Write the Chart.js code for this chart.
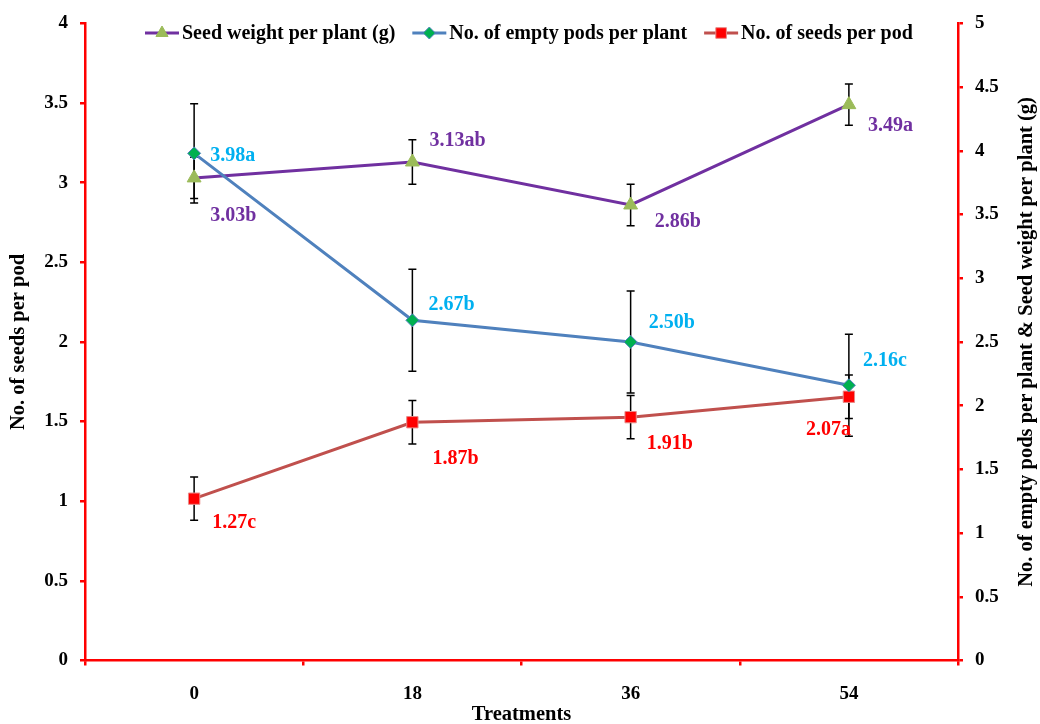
<!DOCTYPE html>
<html>
<head>
<meta charset="utf-8">
<script src="https://cdn.jsdelivr.net/npm/chart.js@4.4.1/dist/chart.umd.min.js"></script>
<style>
  html, body { margin: 0; padding: 0; background: #ffffff; }
  #wrap { width: 1040px; height: 724px; position: relative; }
  #chart { display: block; }
</style>
</head>
<body>
<div id="wrap"><canvas id="chart" width="1040" height="724"></canvas></div>
<script>
// Treatment levels on the x axis
const treatments = ['0', '18', '36', '54'];

// Seed weight per plant (g) — left axis
const seedWeight = [3.03, 3.13, 2.86, 3.49];
const seedWeightErr = [0.13, 0.14, 0.13, 0.13];
const seedWeightLetters = ['b', 'ab', 'b', 'a'];

// No. of empty pods per plant — right axis
const emptyPods = [3.98, 2.67, 2.50, 2.16];
const emptyPodsErr = [0.39, 0.40, 0.40, 0.40];
const emptyPodsLetters = ['a', 'b', 'b', 'c'];

// No. of seeds per pod — right axis
const seedsPerPod = [1.27, 1.87, 1.91, 2.07];
const seedsPerPodErr = [0.17, 0.17, 0.17, 0.17];
const seedsPerPodLetters = ['c', 'b', 'b', 'a'];

// Axis ranges
const leftMin = 0, leftMax = 4, leftStep = 0.5;
const rightMin = 0, rightMax = 5, rightStep = 0.5;

// Where each value label sits relative to its point: [dx, dy, align]
const seedWeightLabelPos = [[16, 38, 'left'], [17, -21, 'left'], [24, 17, 'left'], [19, 21, 'left']];
const emptyPodsLabelPos = [[16, 2, 'left'], [16, -15, 'left'], [18, -19, 'left'], [14, -24, 'left']];
const seedsPerPodLabelPos = [[18, 24, 'left'], [20, 37, 'left'], [16, 27, 'left'], [2, 33, 'right']];

const FONT = '"Liberation Serif", "Times New Roman", serif';
const AXIS_RED = '#FF0000';

Chart.defaults.font.family = FONT;
Chart.defaults.font.weight = 'bold';
Chart.defaults.color = '#000000';

// Vertical error bars, drawn underneath the lines and markers
const errorBars = {
  id: 'errorBars',
  beforeDatasetsDraw(chart) {
    const ctx = chart.ctx;
    ctx.save();
    ctx.strokeStyle = '#000000';
    ctx.lineWidth = 1.5;
    chart.data.datasets.forEach((ds, di) => {
      const meta = chart.getDatasetMeta(di);
      const scale = chart.scales[ds.yAxisID];
      meta.data.forEach((pt, i) => {
        const v = ds.data[i], e = ds.errors[i];
        const x = pt.x;
        const yTop = scale.getPixelForValue(v + e);
        const yBot = scale.getPixelForValue(v - e);
        ctx.beginPath();
        ctx.moveTo(x, yTop); ctx.lineTo(x, yBot);
        ctx.moveTo(x - 4, yTop); ctx.lineTo(x + 4, yTop);
        ctx.moveTo(x - 4, yBot); ctx.lineTo(x + 4, yBot);
        ctx.stroke();
      });
    });
    ctx.restore();
  }
};

// Mean values with significance letters next to each point
const valueLabels = {
  id: 'valueLabels',
  afterDatasetsDraw(chart) {
    const ctx = chart.ctx;
    ctx.save();
    ctx.font = 'bold 20px ' + FONT;
    ctx.textBaseline = 'middle';
    chart.data.datasets.forEach((ds, di) => {
      const meta = chart.getDatasetMeta(di);
      ctx.fillStyle = ds.labelColor;
      meta.data.forEach((pt, i) => {
        const [dx, dy, align] = ds.labelPos[i];
        ctx.textAlign = align;
        ctx.fillText(ds.data[i].toFixed(2) + ds.letters[i], pt.x + dx, pt.y + dy);
      });
    });
    ctx.restore();
  }
};

// Legend row inside the plot, each key a short line with its marker
const lineLegend = {
  id: 'lineLegend',
  afterDraw(chart) {
    const ctx = chart.ctx;
    const y = 33;
    let x = 145;
    ctx.save();
    ctx.font = 'bold 20px ' + FONT;
    ctx.textBaseline = 'middle';
    ctx.textAlign = 'left';
    chart.data.datasets.forEach((ds) => {
      ctx.strokeStyle = ds.borderColor;
      ctx.lineWidth = 3;
      ctx.beginPath();
      ctx.moveTo(x, y); ctx.lineTo(x + 34, y);
      ctx.stroke();
      ctx.fillStyle = ds.pointBackgroundColor;
      ctx.strokeStyle = ds.pointBorderColor;
      ctx.lineWidth = ds.pointBorderWidth;
      Chart.helpers.drawPoint(ctx, {
        pointStyle: ds.pointStyle,
        radius: ds.legendRadius,
        borderWidth: ds.pointBorderWidth,
        rotation: 0
      }, x + 17, y);
      ctx.fillStyle = '#000000';
      ctx.fillText(ds.label, x + 37, y + 1);
      x += 37 + ctx.measureText(ds.label).width + 17;
    });
    ctx.restore();
  }
};

// Right-hand axis title, reading bottom to top
const rightTitle = {
  id: 'rightTitle',
  afterDraw(chart) {
    const ctx = chart.ctx;
    const a = chart.chartArea;
    ctx.save();
    ctx.translate(1027, (a.top + a.bottom) / 2);
    ctx.rotate(-Math.PI / 2);
    ctx.font = 'bold 20.5px ' + FONT;
    ctx.fillStyle = '#000000';
    ctx.textAlign = 'center';
    ctx.textBaseline = 'middle';
    ctx.fillText('No. of empty pods per plant & Seed weight per plant (g)', 0, 0);
    ctx.restore();
  }
};

const plainNumber = (v) => String(Math.round(v * 10) / 10);

new Chart(document.getElementById('chart'), {
  type: 'line',
  data: {
    labels: treatments,
    datasets: [
      {
        label: 'Seed weight per plant (g)',
        data: seedWeight,
        errors: seedWeightErr,
        letters: seedWeightLetters,
        labelPos: seedWeightLabelPos,
        labelColor: '#7030A0',
        yAxisID: 'y',
        borderColor: '#7030A0',
        borderWidth: 3,
        pointStyle: 'triangle',
        pointRadius: 8,
        legendRadius: 7,
        pointBackgroundColor: '#9BBB59',
        pointBorderColor: '#9BBB59',
        pointBorderWidth: 1,
        tension: 0,
        order: 3
      },
      {
        label: 'No. of empty pods per plant',
        data: emptyPods,
        errors: emptyPodsErr,
        letters: emptyPodsLetters,
        labelPos: emptyPodsLabelPos,
        labelColor: '#00B0F0',
        yAxisID: 'y1',
        borderColor: '#4F81BD',
        borderWidth: 3,
        pointStyle: 'rectRot',
        pointRadius: 6.5,
        legendRadius: 6,
        pointBackgroundColor: '#00B050',
        pointBorderColor: '#4F81BD',
        pointBorderWidth: 1,
        tension: 0,
        order: 1
      },
      {
        label: 'No. of seeds per pod',
        data: seedsPerPod,
        errors: seedsPerPodErr,
        letters: seedsPerPodLetters,
        labelPos: seedsPerPodLabelPos,
        labelColor: '#FF0000',
        yAxisID: 'y1',
        borderColor: '#C0504D',
        borderWidth: 3,
        pointStyle: 'rect',
        pointRadius: 8,
        legendRadius: 7.5,
        pointBackgroundColor: '#FF0000',
        pointBorderColor: '#E88A88',
        pointBorderWidth: 1,
        tension: 0,
        order: 2
      }
    ]
  },
  options: {
    responsive: false,
    animation: false,
    devicePixelRatio: 1,
    layout: { padding: { top: 19.5, left: 0, right: 0, bottom: 0 } },
    plugins: {
      legend: { display: false },
      tooltip: { enabled: false }
    },
    scales: {
      x: {
        type: 'category',
        offset: true,
        border: { color: AXIS_RED, width: 2.5 },
        grid: { offset: true, drawOnChartArea: false, drawTicks: true, tickLength: 5, color: AXIS_RED, lineWidth: 2.5 },
        ticks: { font: { size: 19, weight: 'bold' }, padding: 17, color: '#000000', maxRotation: 0 },
        title: { display: true, text: 'Treatments', font: { size: 20.5, weight: 'bold', lineHeight: 1 }, padding: { top: 0, bottom: -1 }, color: '#000000' },
        afterFit(scale) { scale.height = 63.5; }
      },
      y: {
        position: 'left',
        min: leftMin, max: leftMax,
        border: { color: AXIS_RED, width: 2.5 },
        grid: { drawOnChartArea: false, drawTicks: true, tickLength: 5, color: AXIS_RED, lineWidth: 2.5 },
        ticks: { stepSize: leftStep, font: { size: 19, weight: 'bold' }, padding: 12, color: '#000000', callback: plainNumber },
        title: { display: true, text: 'No. of seeds per pod', font: { size: 20.5, weight: 'bold', lineHeight: 1 }, padding: { top: 8, bottom: 0 }, color: '#000000' },
        afterFit(scale) { scale.width = 85; }
      },
      y1: {
        position: 'right',
        min: rightMin, max: rightMax,
        border: { color: AXIS_RED, width: 2.5 },
        grid: { drawOnChartArea: false, drawTicks: true, tickLength: 5, color: AXIS_RED, lineWidth: 2.5 },
        ticks: { stepSize: rightStep, font: { size: 19, weight: 'bold' }, padding: 12, color: '#000000', callback: plainNumber },
        afterFit(scale) { scale.width = 82; }
      }
    }
  },
  plugins: [errorBars, valueLabels, lineLegend, rightTitle]
});
</script>
</body>
</html>
